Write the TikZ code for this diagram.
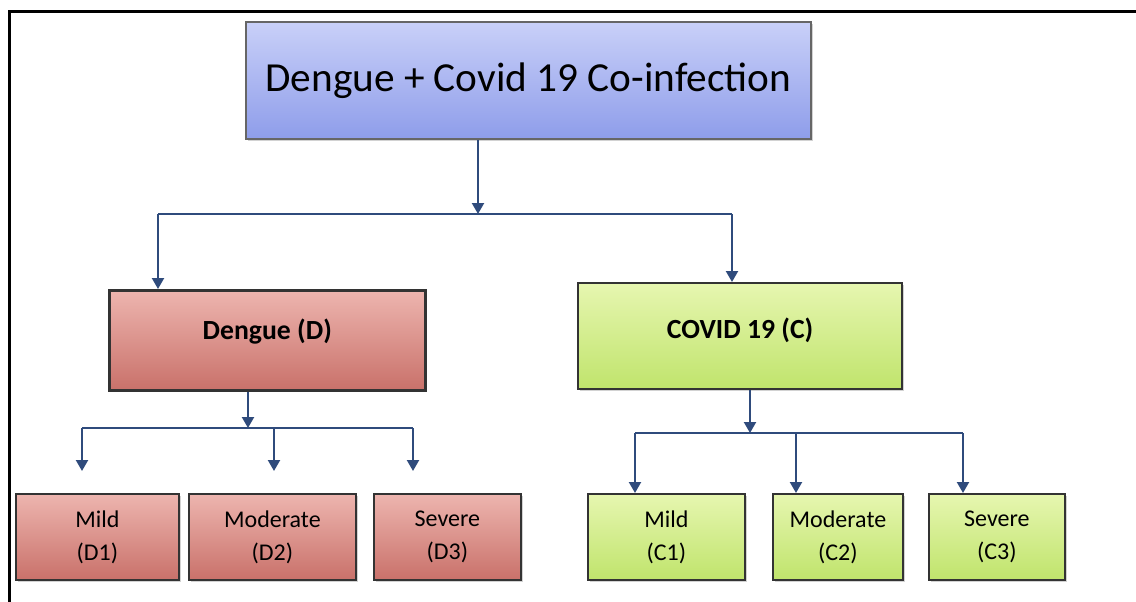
\documentclass[tikz,border=0pt]{standalone}
\usepackage{fontspec}
\setmainfont{Carlito}
\usetikzlibrary{shadows,arrows.meta}
\definecolor{arrowc}{HTML}{2F4B7C}
\definecolor{bluetop}{HTML}{C9D0F8}
\definecolor{bluebot}{HTML}{8E9DEA}
\definecolor{redtop}{HTML}{EDB5AF}
\definecolor{redbot}{HTML}{C9716A}
\definecolor{greentop}{HTML}{E6F6B0}
\definecolor{greenbot}{HTML}{C0E46C}
\newcommand{\upby}[2]{\raisebox{0pt}[\height][\dimexpr\depth+#1\relax]{#2}}
\tikzset{
  box/.style={draw=black!80, line width=1.8pt, inner sep=0pt, anchor=north west, align=center,
    drop shadow={shadow xshift=2pt, shadow yshift=-2pt, fill=black!35}},
  bluebox/.style={box, top color=bluetop, bottom color=bluebot, draw=black!60},
  redbox/.style={box, top color=redtop, bottom color=redbot},
  greenbox/.style={box, top color=greentop, bottom color=greenbot},
  conn/.style={draw=arrowc, line width=2.2pt},
  arr/.style={conn, -{Triangle[length=11pt,width=12pt]}},
  leaf/.style={minimum height=86pt, font=\fontsize{24}{33}\selectfont},
}
\begin{document}
\begin{tikzpicture}[x=1pt,y=-1pt]
\useasboundingbox (0,0) rectangle (1136,602);
\fill[white] (0,0) rectangle (1136,602);
% frame
\draw[line width=3pt] (9,602) -- (9,12) -- (1136,12);
% top
\node[bluebox, minimum width=565pt, minimum height=117pt, font=\fontsize{41.3}{48}\selectfont] (top) at (245,21) {Dengue + Covid 19 Co-infection};
% second level
\node[redbox, line width=2.6pt, minimum width=316pt, minimum height=100pt, font=\fontsize{27.7}{32}\selectfont\bfseries] (den) at (108,289) {\upby{18pt}{Dengue (D)}};
\node[greenbox, line width=2.2pt, minimum width=324pt, minimum height=106pt, font=\fontsize{27.7}{32}\selectfont\bfseries] (cov) at (577,282) {\upby{12pt}{COVID 19 (C)}};
% leaves
\node[redbox, leaf, minimum width=163pt] (d1) at (15,493) {Mild\\(D1)};
\node[redbox, leaf, minimum width=167pt] (d2) at (188,493) {Moderate\\(D2)};
\node[redbox, leaf, minimum width=147pt] (d3) at (373,493) {Severe\\(D3)};
\node[greenbox, leaf, minimum width=157pt] (c1) at (587,493) {Mild\\(C1)};
\node[greenbox, leaf, minimum width=130pt] (c2) at (772,493) {Moderate\\(C2)};
\node[greenbox, leaf, minimum width=136pt] (c3) at (928,493) {Severe\\(C3)};
% junctions
\coordinate (j0) at (478,214);
\coordinate (jl) at (158,214);
\coordinate (jr) at (732,214);
\coordinate (jd) at (248,428);
\coordinate (d1t) at (82,428);
\coordinate (d2t) at (274,428);
\coordinate (d3t) at (413,428);
\coordinate (jc) at (750,433);
\coordinate (c1t) at (635,433);
\coordinate (c2t) at (796,433);
\coordinate (c3t) at (963,433);
% connectors
\draw[arr] (top.south -| j0) -- (j0);
\draw[conn] (jl) -- (jr);
\draw[arr] (jl) -- (den.north -| jl);
\draw[arr] (jr) -- (cov.north -| jr);
\draw[arr] (den.south -| jd) -- (jd);
\draw[conn] (d1t) -- (d3t);
\draw[arr] (d1t) -- ([yshift=22pt]d1.north -| d1t);
\draw[arr] (d2t) -- ([yshift=22pt]d2.north -| d2t);
\draw[arr] (d3t) -- ([yshift=22pt]d3.north -| d3t);
\draw[arr] (cov.south -| jc) -- (jc);
\draw[conn] (c1t) -- (c3t);
\draw[arr] (c1t) -- (c1.north -| c1t);
\draw[arr] (c2t) -- (c2.north -| c2t);
\draw[arr] (c3t) -- (c3.north -| c3t);
\end{tikzpicture}
\end{document}
